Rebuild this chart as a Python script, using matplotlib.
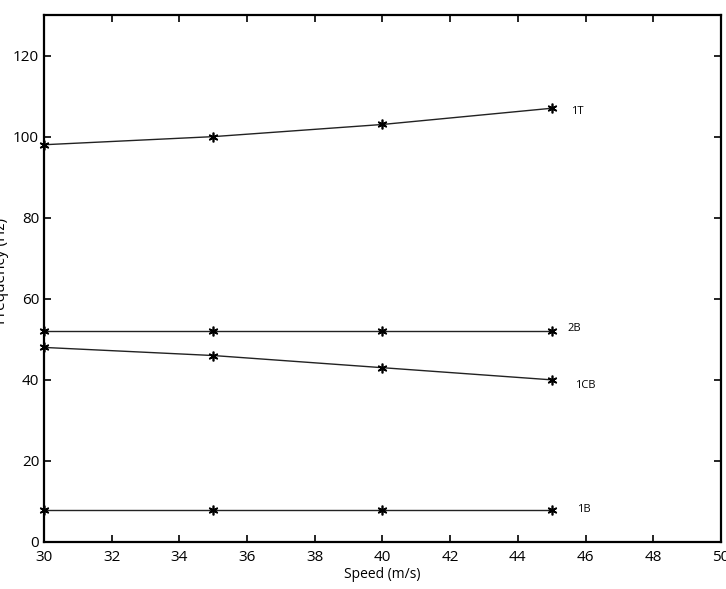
import matplotlib
matplotlib.use("Agg")
import matplotlib.pyplot as plt

speed = [30, 35, 40, 45]
f_1T = [98, 100, 103, 107]
f_2B = [52, 52, 52, 52]
f_1CB = [48, 46, 43, 40]
f_1B = [8, 8, 8, 8]
labels = ["1T", "2B", "1CB", "1B"]
label_pos = [(45.57, 106.2), (45.48, 52.6), (45.69, 38.5), (45.75, 7.9)]

plt.rcParams['font.family'] = ['Open Sans', 'DejaVu Sans']

fig = plt.figure(figsize=(7.26, 5.89), dpi=100)
ax = fig.add_axes([0.0606, 0.0798, 0.9324, 0.8947])

for ys in [f_1T, f_2B, f_1CB, f_1B]:
    ax.plot(speed, ys, color='#222222', linewidth=1.0, marker=(6, 2, 0),
            markersize=7, markeredgecolor='black', markeredgewidth=1.2,
            clip_on=False)

for lab, (x, y) in zip(labels, label_pos):
    ax.text(x, y, lab, fontsize=8, va='center', ha='left')

ax.set_xlim(30, 50)
ax.set_ylim(0, 130)
ax.set_xticks(range(30, 51, 2))
ax.set_yticks(range(0, 121, 20))
ax.tick_params(direction='in', top=True, right=True, labelsize=11, length=5, width=1.2)
ax.tick_params(axis='x', pad=6)
for s in ax.spines.values():
    s.set_linewidth(1.6)
ax.set_xlabel('Speed (m/s)', fontsize=10, labelpad=1)
fig.text(0.002, 0.54, 'Frequency (Hz)', rotation=90, fontsize=11, ha='center', va='center')

fig.savefig('out.png', dpi=100)
